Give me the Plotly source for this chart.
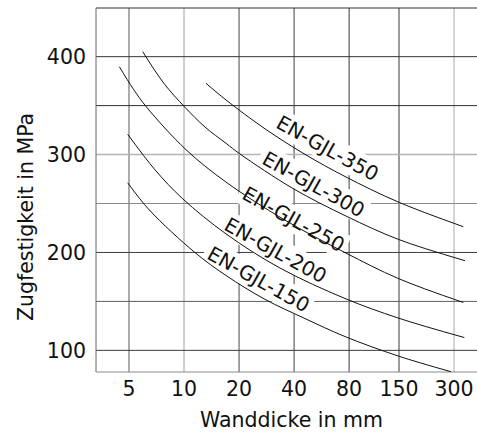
import numpy as np
import plotly.graph_objects as go

FONT = "DejaVu Sans"

# Wall thickness (mm) and tensile strength (MPa) along each grade curve
x_150 = [4.92, 6.46, 11.48, 16.97, 27.73, 45.9, 75.96, 148.7, 288.7]
y_150 = [271.2, 243.4, 199.9, 176.5, 152.1, 132.5, 114.1, 94.2, 78.2]

x_200 = [4.92, 6.94, 9.84, 16.97, 33.5, 75.96, 148.7, 341.5]
y_200 = [320.7, 284.4, 254.8, 219.0, 184.1, 153.0, 133.0, 113.1]

x_250 = [4.43, 5.26, 6.25, 10.25, 16.97, 35.68, 75.96, 148.7, 337.2]
y_250 = [389.7, 367.4, 348.3, 305.0, 271.9, 233.0, 199.9, 173.4, 148.9]

x_300 = [5.94, 7.77, 10.12, 13.03, 16.97, 20.24, 39.47, 77.91, 148.7, 344.5]
y_300 = [405.1, 372.6, 348.3, 328.1, 311.5, 300.6, 265.3, 236.7, 213.4, 191.6]

x_350 = [13.19, 16.97, 27.73, 45.9, 75.96, 148.7, 337.2]
y_350 = [372.8, 355.8, 326.3, 300.2, 277.6, 251.5, 226.3]

grades = ["EN-GJL-150", "EN-GJL-200", "EN-GJL-250", "EN-GJL-300", "EN-GJL-350"]
curves_x = [x_150, x_200, x_250, x_300, x_350]
curves_y = [y_150, y_200, y_250, y_300, y_350]

# Label anchor points (data coordinates) for each grade
label_x = [25.4, 31.5, 39.5, 50.8, 60.6]
label_y = [172.9, 202.5, 234.2, 269.9, 306.7]

x_ticks = [5, 10, 20, 40, 80, 150, 300]
y_ticks = [100, 200, 300, 400]
y_grid = [100, 150, 200, 250, 300, 350, 400]

fig = go.Figure()

# grid lines, each with its own ink
v_grid_style = {5: ("#5a5a5a", 1), 10: ("#cfcfcf", 2), 20: ("#4a4a4a", 1),
                40: ("#404040", 1), 80: ("#383838", 1), 150: ("#383838", 1),
                300: ("#d4d4d4", 2)}
h_grid_style = {100: ("#3a3a3a", 1), 150: ("#5e5e5e", 1), 200: ("#3e3e3e", 1),
                250: ("#8a8a8a", 1), 300: ("#b4b4b4", 1.5), 350: ("#2e2e2e", 1),
                400: ("#333333", 1)}
for xv in x_ticks:
    c, w = v_grid_style[xv]
    fig.add_shape(type="line", xref="x", yref="paper", x0=xv, x1=xv, y0=0, y1=1,
                  line=dict(color=c, width=w), layer="below")
for yv in y_grid:
    c, w = h_grid_style[yv]
    fig.add_shape(type="line", xref="paper", yref="y", x0=0, x1=1.02, y0=yv, y1=yv,
                  line=dict(color=c, width=w), layer="below")

# frame: top, left and bottom edges
fig.add_shape(type="line", xref="paper", yref="paper", x0=0, x1=1.02, y0=1, y1=1,
              line=dict(color="#333333", width=1), layer="below")
fig.add_shape(type="line", xref="paper", yref="paper", x0=0, x1=0, y0=0, y1=1,
              line=dict(color="#666666", width=1), layer="below")
fig.add_shape(type="line", xref="paper", yref="paper", x0=0, x1=1.02, y0=0, y1=0,
              line=dict(color="#8a8a8a", width=1), layer="below")

# white plates behind the grade labels (hide the grid under the text)
ang = np.deg2rad(29)
u = np.array([np.cos(ang), -np.sin(ang)])
n = np.array([np.sin(ang), np.cos(ang)])
half_len, half_h = 60, 13
for lx, ly in zip(label_x, label_y):
    pts = [s1 * half_len * u + s2 * half_h * n
           for s1, s2 in [(-1, -1), (1, -1), (1, 1), (-1, 1)]]
    path = "M " + " L ".join(f"{p[0]:.1f},{p[1]:.1f}" for p in pts) + " Z"
    fig.add_shape(type="path", path=path, xref="x", yref="y",
                  xsizemode="pixel", ysizemode="pixel", xanchor=lx, yanchor=ly,
                  fillcolor="white", line=dict(width=0), layer="below")

for name, xs, ys in zip(grades, curves_x, curves_y):
    fig.add_trace(go.Scatter(x=xs, y=ys, mode="lines", name=name,
                             line=dict(color="#111111", width=1, shape="spline",
                                       smoothing=1.0),
                             showlegend=False, hoverinfo="skip"))

for name, lx, ly in zip(grades, label_x, label_y):
    fig.add_annotation(x=np.log10(lx), y=ly, xref="x", yref="y", text=name,
                       textangle=29, showarrow=False, xanchor="center", yanchor="middle",
                       font=dict(family=FONT, size=20, color="#111111"))

fig.add_annotation(text="Wanddicke in mm", xref="paper", yref="paper",
                   x=0.5144, y=-0.131, showarrow=False, xanchor="center", yanchor="middle",
                   font=dict(family=FONT, size=20.5, color="#111111"))
fig.add_annotation(text="Zugfestigkeit in MPa", xref="paper", yref="paper",
                   x=-0.1837, y=0.4258, showarrow=False, textangle=-90,
                   xanchor="center", yanchor="middle",
                   font=dict(family=FONT, size=20.5, color="#111111"))

fig.update_xaxes(type="log", range=[np.log10(3.30), np.log10(400.6)],
                 tickvals=x_ticks, ticktext=[str(v) for v in x_ticks],
                 showgrid=False, zeroline=False, showline=False, ticks="",
                 ticklabelstandoff=2,
                 tickfont=dict(family=FONT, size=20.5, color="#111111"))
fig.update_yaxes(range=[77.9, 449.7], tickvals=y_ticks,
                 ticktext=[str(v) for v in y_ticks],
                 showgrid=False, zeroline=False, showline=False, ticks="",
                 ticklabelstandoff=9,
                 tickfont=dict(family=FONT, size=20.5, color="#111111"))

fig.update_layout(width=477, height=432,
                  margin=dict(l=96, r=0, t=8, b=60),
                  paper_bgcolor="white", plot_bgcolor="white",
                  font=dict(family=FONT))

fig.write_html("out.html")
